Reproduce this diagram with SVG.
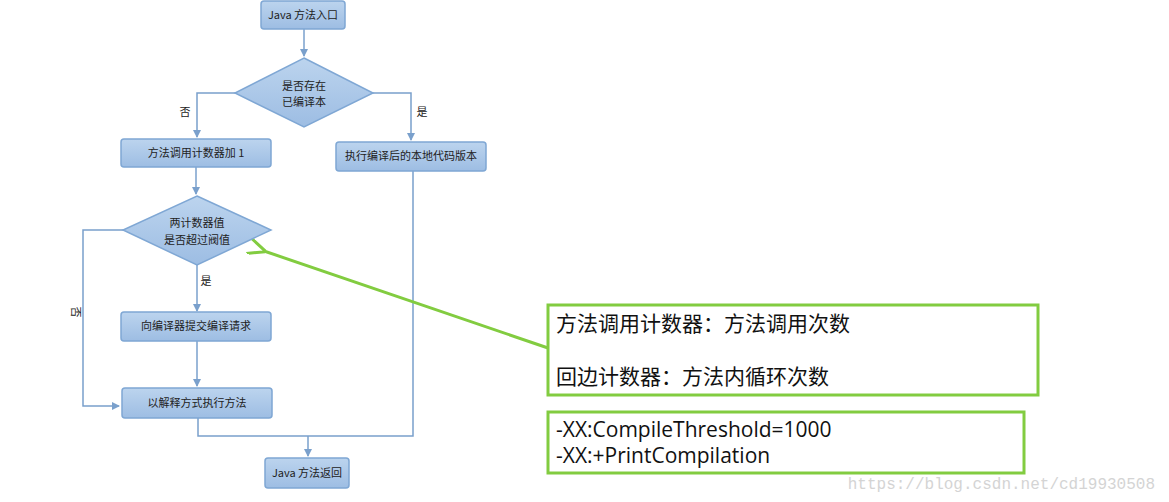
<svg xmlns="http://www.w3.org/2000/svg" width="1169" height="502" viewBox="0 0 1169 502">
<style>
.box{fill:url(#g);stroke:#7fa7d4;stroke-width:1.5}
.t{font-family:"Noto Sans CJK SC","Liberation Serif",serif;font-size:11px;fill:#222;text-anchor:middle}
.c{fill:none;stroke:#7aa0cc;stroke-width:1.5}
.gb{fill:#fff;stroke:#82cc40;stroke-width:3}
.gt{font-family:"Open Sans","Noto Sans CJK SC",sans-serif;font-size:21px;fill:#111}
</style>
<defs>
<linearGradient id="g" x1="0" y1="0" x2="0" y2="1"><stop offset="0" stop-color="#bcd4ee"/><stop offset="1" stop-color="#9dbde3"/></linearGradient>
<marker id="a" markerWidth="8" markerHeight="8" refX="7" refY="4" orient="auto" markerUnits="userSpaceOnUse"><path d="M0,0L8,4L0,8z" fill="#7aa0cc"/></marker>
<marker id="ga" markerWidth="20" markerHeight="16" refX="2" refY="8" orient="auto" markerUnits="userSpaceOnUse"><path d="M18,0L0,8L18,16" fill="none" stroke="#82cc40" stroke-width="3"/></marker>
</defs>
<rect width="1169" height="502" fill="#fff"/>
<g id="connectors">
<path class="c" d="M304,29V56" marker-end="url(#a)"/>
<path class="c" d="M235,93H197V137" marker-end="url(#a)"/>
<path class="c" d="M373,93H411V140" marker-end="url(#a)"/>
<path class="c" d="M196,167V194" marker-end="url(#a)"/>
<path class="c" d="M123,230H83V406H119" marker-end="url(#a)"/>
<path class="c" d="M197,265V311" marker-end="url(#a)"/>
<path class="c" d="M197,341V386" marker-end="url(#a)"/>
<path class="c" d="M198,418V436H413V171"/>
<path class="c" d="M308,436V456" marker-end="url(#a)"/>
<text class="t" x="185" y="116">否</text>
<text class="t" x="422" y="116">是</text>
<text class="t" x="206" y="285">是</text>
<text class="t" transform="translate(72,312) rotate(90)">否</text>
<path d="M548,348L264,251" stroke="#82cc40" stroke-width="3" fill="none" marker-end="url(#ga)"/>
</g>
<g id="n1"><rect class="box" x="261" y="1" width="84" height="28" rx="3"/><text class="t" x="303" y="19">Java 方法入口</text></g>
<g id="n2"><path class="box" d="M304,58L373,93L304,127L235,93z"/><text class="t" x="304" y="90">是否存在</text><text class="t" x="304" y="106">已编译本</text></g>
<g id="n3"><rect class="box" x="121" y="139" width="150" height="28" rx="3"/><text class="t" x="196" y="157">方法调用计数器加 1</text></g>
<g id="n4"><rect class="box" x="336" y="142" width="150" height="29" rx="3"/><text class="t" x="411" y="160">执行编译后的本地代码版本</text></g>
<g id="n5"><path class="box" d="M197,196L271,230L197,265L123,230z"/><text class="t" x="197" y="227">两计数器值</text><text class="t" x="197" y="244">是否超过阀值</text></g>
<g id="n6"><rect class="box" x="121" y="312" width="150" height="29" rx="3"/><text class="t" x="196" y="330">向编译器提交编译请求</text></g>
<g id="n7"><rect class="box" x="122" y="388" width="150" height="30" rx="3"/><text class="t" x="197" y="407">以解释方式执行方法</text></g>
<g id="n8"><rect class="box" x="265" y="458" width="84" height="30" rx="3"/><text class="t" x="307" y="477">Java 方法返回</text></g>
<g id="note1"><rect class="gb" x="548" y="305" width="490" height="90"/><text class="gt" x="556" y="331">方法调用计数器：方法调用次数</text><text class="gt" x="556" y="384">回边计数器：方法内循环次数</text></g>
<g id="note2"><rect class="gb" x="548" y="412" width="476" height="61"/><text class="gt" x="556" y="437">-XX:CompileThreshold=1000</text><text class="gt" x="556" y="463">-XX:+PrintCompilation</text></g>
<text x="1155" y="489" text-anchor="end" font-family="Liberation Mono,monospace" font-size="16" fill="#d4d4d4">https://blog.csdn.net/cd19930508</text>
</svg>
